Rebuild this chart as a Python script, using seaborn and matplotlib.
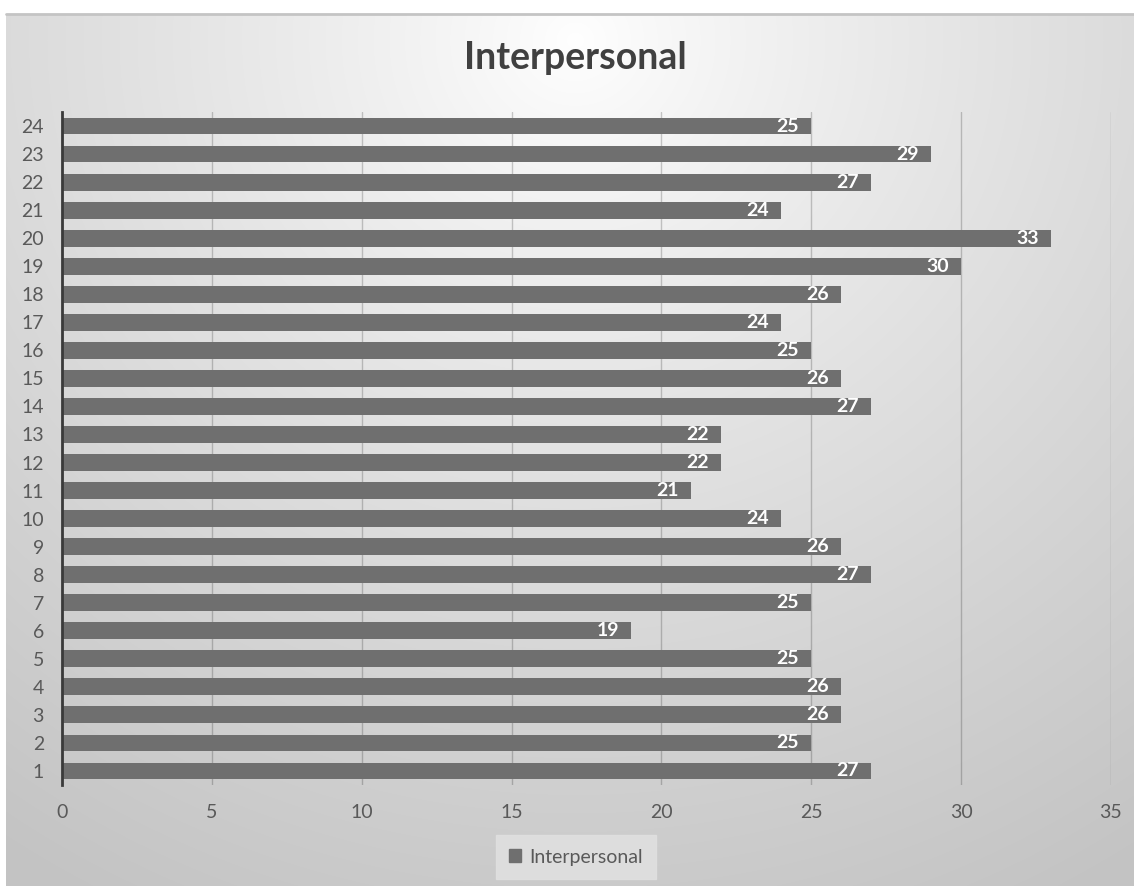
import numpy as np
import matplotlib
matplotlib.use("Agg")
import matplotlib.pyplot as plt
import seaborn as sns
import pandas as pd

categories = [str(i) for i in range(1, 25)]
values = [27, 25, 26, 26, 25, 19, 25, 27, 26, 24, 21, 22, 22, 27, 26, 25, 24, 26, 30, 33, 24, 27, 29, 25]
series_name = "Interpersonal"
xticks = [0, 5, 10, 15, 20, 25, 30, 35]

sns.set_theme(style="white")
plt.rcParams['font.family'] = ['Lato', 'DejaVu Sans']

W, H = 1134, 886
fig = plt.figure(figsize=(W / 100, H / 100), dpi=100)
fig.patch.set_facecolor("white")

# background radial gradient panel
x0, y0 = 6, 14
bg = fig.add_axes([x0 / W, 0, 1 - x0 / W, (H - y0) / H], zorder=0)
gx, gy = np.meshgrid(np.arange(x0, W), np.arange(y0, H))
d = np.hypot(gx - 575, (gy - 40) * 1.05)
g = 255 - 60 * np.clip(d / 1030, 0, 1) ** 0.85
g = g / 255.0
img = np.dstack([g, g, g])
bg.imshow(img, aspect="auto", extent=[0, 1, 0, 1], origin="upper")
bg.set_axis_off()
fig.add_artist(plt.Line2D([x0 / W, 1], [1 - y0 / H, 1 - y0 / H], color="#c4c4c4", lw=2, transform=fig.transFigure, zorder=1))

ax = fig.add_axes([62 / W, 1 - 785 / H, (1111 - 62) / W, (785 - 112) / H], zorder=2)
ax.patch.set_alpha(0)

df = pd.DataFrame({"cat": categories, "val": values})
order = categories[::-1]
sns.barplot(data=df, x="val", y="cat", order=order, orient="h", color="#6f6f6f",
            saturation=1, width=0.6, linewidth=0, ax=ax, zorder=3)

ax.set_xlim(0, 35)
ax.set_ylim(len(categories) - 0.5, -0.5)
ax.set_xticks(xticks)
ax.set_xlabel("")
ax.set_ylabel("")
for s in ["top", "right", "bottom"]:
    ax.spines[s].set_visible(False)
ax.spines["left"].set_color("#3a3a3a")
ax.spines["left"].set_linewidth(2)
ax.spines["left"].set_zorder(5)
ax.grid(axis="x", color="black", alpha=0.2, lw=1, zorder=1)
ax.set_axisbelow(True)
ax.tick_params(axis="x", length=0, pad=14, labelsize=14, labelcolor="#595959")
ax.tick_params(axis="y", length=0, pad=13, labelsize=14, labelcolor="#595959")

for cont in ax.containers:
    ax.bar_label(cont, labels=[str(int(round(v))) for v in cont.datavalues], label_type="edge",
                 padding=-25, color="white", fontsize=14, fontweight="bold", zorder=6)

fig.text(575 / W, 1 - 58 / H, "Interpersonal", ha="center", va="center",
         fontsize=27, fontweight="bold", color="#404040")

leg = ax.legend(handles=[matplotlib.patches.Patch(color="#6f6f6f", label=series_name)],
                loc="center", bbox_to_anchor=(576 / W, 1 - 857 / H), bbox_transform=fig.transFigure,
                frameon=True, fontsize=14, handlelength=0.6, handleheight=0.6, handletextpad=0.4,
                borderpad=0.7, fancybox=False)
leg.get_frame().set_facecolor("#e0e0e0")
leg.get_frame().set_edgecolor("#e0e0e0")
leg.get_frame().set_alpha(0.9)
for t in leg.get_texts():
    t.set_color("#595959")

fig.savefig("out.png", dpi=100)
